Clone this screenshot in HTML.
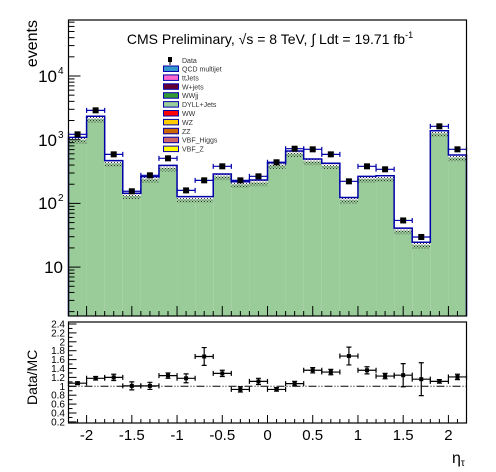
<!DOCTYPE html>
<html><head><meta charset="utf-8"><style>
html,body{margin:0;padding:0;background:#fff;}
svg{display:block;font-family:"Liberation Sans",sans-serif;}
</style></head><body>
<svg id="c" width="496" height="472" viewBox="0 0 496 472">
<defs>
<pattern id="dots" width="3" height="3" patternUnits="userSpaceOnUse"><rect x="0" y="0" width="1" height="1" fill="#333"/><rect x="1.5" y="1.5" width="1" height="1" fill="#333"/></pattern>
</defs>
<g id="gtop"></g>
<g id="gbot"></g>
</svg>
<script>
const binLow = [-2.2,-2.0,-1.8,-1.6,-1.4,-1.2,-1.0,-0.8,-0.6,-0.4,-0.2,0.0,0.2,0.4,0.6,0.8,1.0,1.2,1.4,1.6,1.8,2.0];
const mcValues = [1090,2330,469,144,263,396,128,128,290,219,233,435,665,498,426,124,266,272,41,24.5,1385,575];
const dataValues = [1214,2890,589,155,276,510,160,230,382,230,266,442,722,706,589,222,382,343,54,29.7,1622,706];
const ratioValues = [1.07,1.18,1.20,1.01,1.01,1.24,1.18,1.67,1.29,0.93,1.11,0.93,1.06,1.36,1.32,1.68,1.36,1.23,1.25,1.16,1.11,1.21];
const ratioErrors = [0.03,0.04,0.07,0.09,0.08,0.06,0.1,0.2,0.07,0.06,0.07,0.04,0.05,0.06,0.06,0.2,0.08,0.06,0.26,0.37,0.04,0.06];
const xTicks = [-2,-1.5,-1,-0.5,0,0.5,1,1.5,2];
const xTickLabels = ["-2","-1.5","-1","-0.5","0","0.5","1","1.5","2"];
const ratioTicks = [0.2,0.4,0.6,0.8,1,1.2,1.4,1.6,1.8,2,2.2,2.4];
const legendNames = ["QCD multijet","ttJets","W+jets","WWjj","DYLL+Jets","WW","WZ","ZZ","VBF_Higgs","VBF_Z"];
const legendColors = ["#3399cc","#ff66cc","#660033","#339933","#99cc99","#ff0000","#ffcc00","#cc6600","#cc6666","#ffff00"];

const NS="http://www.w3.org/2000/svg";
const L=68.5,R=466.5,T=20,B=316,RT=322,RB=423;
const X=v=>L+(v+2.2)/4.4*(R-L);
const Y=v=>76-(Math.log10(v)-4)*63.7;
const RY=v=>386.3-(v-1)*44.5;
function mk(p,tag,at){const e=document.createElementNS(NS,tag);for(const k in at)e.setAttribute(k,at[k]);p.appendChild(e);return e;}
const gTop=document.getElementById('gtop'),gBot=document.getElementById('gbot');
const bw=0.2;
for(let i=0;i<binLow.length;i++){
 const x0=X(binLow[i]),x1=X(binLow[i]+bw),v=mcValues[i];
 const f=mk(gTop,'rect',{x:x0,y:Y(v/1.1),width:x1-x0,height:B-Y(v/1.1),fill:'#99cc99'});
 
 
 const u=mk(gTop,'rect',{x:x0,y:Y(v),width:x1-x0,height:Y(v/1.25)-Y(v),fill:'url(#dots)'});
 
 
}
let d='M'+L+','+B;
for(let i=0;i<binLow.length;i++){d+=' L'+X(binLow[i])+','+Y(mcValues[i])+' L'+X(binLow[i]+bw)+','+Y(mcValues[i]);}
d+=' L'+R+','+B;
const st=mk(gTop,'path',{d:d,fill:'none',stroke:'#0000aa','stroke-width':1.5});


for(let i=0;i<binLow.length;i++){
 const c=X(binLow[i]+bw/2),y=Y(dataValues[i]),x0=X(binLow[i]),x1=X(binLow[i]+bw);
 const g=mk(gTop,'g',{});
 
 
 mk(g,'path',{d:`M${x0},${y}H${x1}M${x0},${y-2.5}V${y+2.5}M${x1},${y-2.5}V${y+2.5}`,stroke:'#0000aa','stroke-width':1.2,fill:'none'});
 mk(g,'rect',{x:c-3,y:y-3,width:6,height:6,fill:'#000'});
}
const ft=mk(gTop,'rect',{x:L,y:T,width:R-L,height:B-T,fill:'none',stroke:'#000','stroke-width':1.2});


for(let k=-22;k<=22;k++){const v=k/10,x=X(v),maj=(k%5===0);
 mk(gTop,'line',{x1:x,x2:x,y1:B,y2:B-(maj?10:5),stroke:'#000','stroke-width':1});
 mk(gBot,'line',{x1:x,x2:x,y1:RB,y2:RB-(maj?8:4),stroke:'#000','stroke-width':1});}
for(let e=0;e<=4;e++)for(let m=1;m<10;m++){const v=m*Math.pow(10,e),y=Y(v);if(y<T||y>B)continue;
 mk(gTop,'line',{x1:L,x2:L+(m===1?12:6),y1:y,y2:y,stroke:'#000','stroke-width':1});}
const ylab=[["10",4,76],["10",3,140],["10",2,203]];
for(const [b,e,y] of ylab){const t=mk(gTop,'text',{x:57,y:y+6,'font-size':17,'text-anchor':'end'});t.textContent=b;
 
 
 const s=mk(gTop,'text',{x:58,y:y-2,'font-size':10});s.textContent=e;}
{const t=mk(gTop,'text',{x:63,y:273,'font-size':17,'text-anchor':'end'});t.textContent='10';
 
 }
{const t=mk(gTop,'text',{x:0,y:0,'font-size':16,transform:'translate(37,20) rotate(-90)','text-anchor':'end'});t.textContent='events';
 
 }
{const t=mk(gTop,'text',{x:270,y:44,'font-size':14,'text-anchor':'middle'});t.innerHTML='CMS Preliminary, √s = 8 TeV, ∫ Ldt = 19.71 fb<tspan dy="-6" font-size="9">-1</tspan>';
 
 }
{const g=mk(gTop,'g',{});
 
 
 mk(g,'rect',{x:168,y:57,width:4,height:5,fill:'#000'});mk(g,'line',{x1:170,x2:170,y1:60,y2:65,stroke:'#000'});
 const t=mk(g,'text',{x:182,y:63,'font-size':7,fill:'#333'});t.textContent='Data';
 for(let i=0;i<legendNames.length;i++){const y=66+i*8.9;
  const e=mk(g,'g',{});
  
  
  mk(e,'rect',{x:163.5,y:y,width:15,height:5.5,fill:legendColors[i],stroke:'#0000aa','stroke-width':1});
  const tt=mk(e,'text',{x:182,y:y+5.5,'font-size':7,fill:'#333'});tt.textContent=legendNames[i];}}
const fb=mk(gBot,'rect',{x:L,y:RT,width:R-L,height:RB-RT,fill:'none',stroke:'#000','stroke-width':1.2});


for(let k=2;k<=24;k++){const y=RY(k/10);mk(gBot,'line',{x1:L,x2:L+(k%2===0?8:4),y1:y,y2:y,stroke:'#000','stroke-width':1});}
for(let i=0;i<ratioTicks.length;i++){const t=mk(gBot,'text',{x:65,y:RY(ratioTicks[i])+3.5,'font-size':10,'text-anchor':'end'});t.textContent=String(ratioTicks[i]);
 
 }
{const t=mk(gBot,'text',{x:0,y:0,'font-size':14,transform:'translate(37,405) rotate(-90)'});t.textContent='Data/MC';
 
 }
{const l=mk(gBot,'line',{x1:L,x2:R,y1:RY(1),y2:RY(1),stroke:'#000','stroke-dasharray':'8,2,1,2,1,2','stroke-width':1});
 
 }
for(let i=0;i<binLow.length;i++){const c=X(binLow[i]+bw/2),y=RY(ratioValues[i]),x0=X(binLow[i]),x1=X(binLow[i]+bw);
 const g=mk(gBot,'g',{});
 
 
 const y1=RY(ratioValues[i]+ratioErrors[i]),y2=RY(ratioValues[i]-ratioErrors[i]);
 mk(g,'path',{d:`M${x0},${y}H${x1}M${x0},${y-2.5}V${y+2.5}M${x1},${y-2.5}V${y+2.5}M${c},${y1}V${y2}M${c-2.5},${y1}H${c+2.5}M${c-2.5},${y2}H${c+2.5}`,stroke:'#000','stroke-width':1.2,fill:'none'});
 mk(g,'rect',{x:c-2,y:y-2,width:4,height:4,fill:'#000'});}
for(let i=0;i<xTicks.length;i++){const t=mk(gBot,'text',{x:X(xTicks[i]),y:440,'font-size':15,'text-anchor':'middle'});t.textContent=xTickLabels[i];
 
 }
{const t=mk(gBot,'text',{x:452,y:463,'font-size':16});t.innerHTML='η<tspan dy="3" font-size="10">τ</tspan>';
 
 }
</script>
</body></html>
